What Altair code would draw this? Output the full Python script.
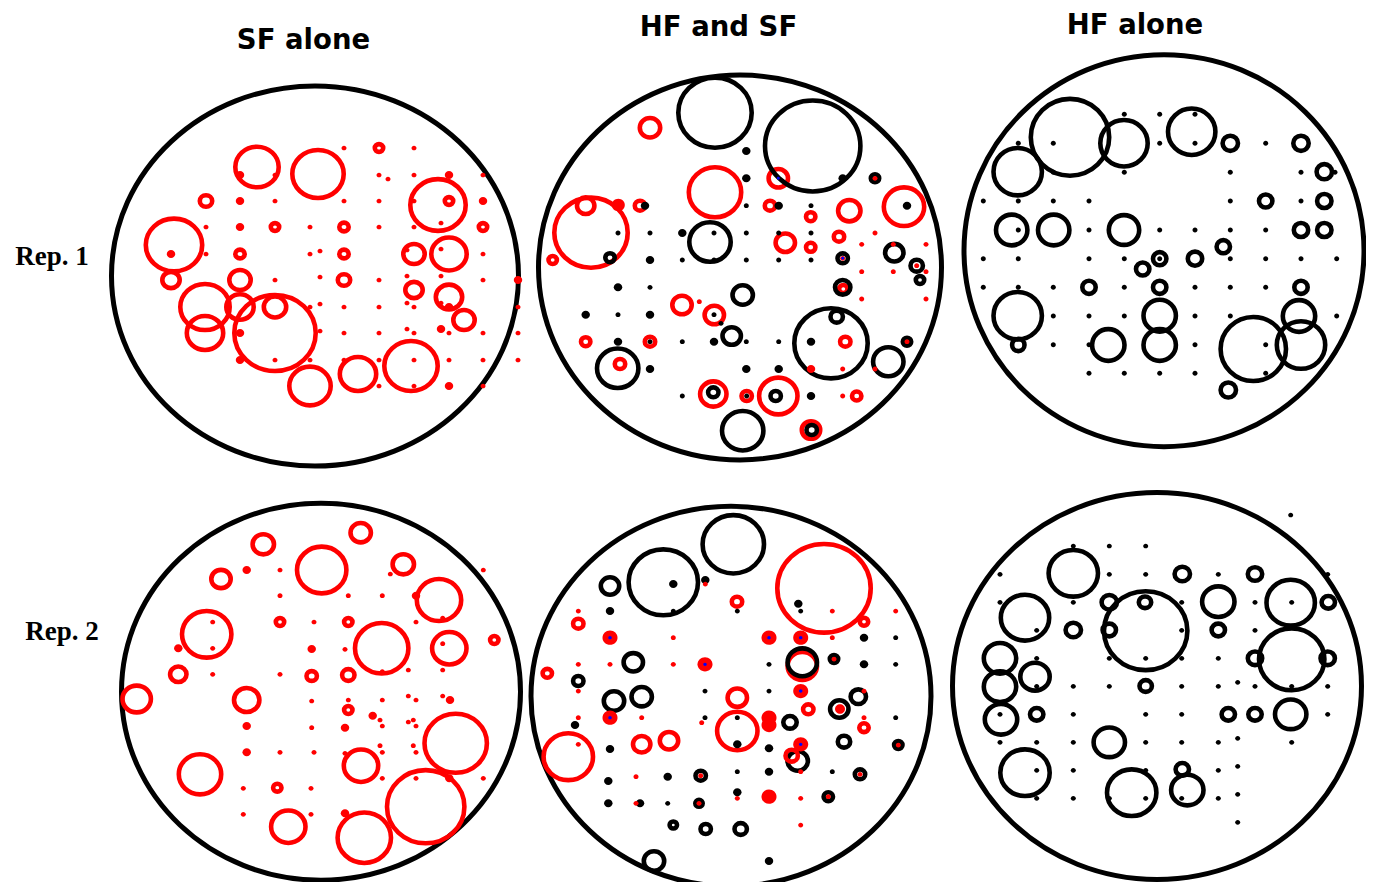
import altair as alt
import pandas as pd

# ---------------- panel frames ----------------
PANEL_IDS = ["p1", "p2", "p3", "p4", "p5", "p6"]
PANEL_ASPECT = [0.934, 0.955, 0.98, 0.945, 0.95, 0.946]
FRAME_X = [315, 740, 1164, 321, 731, 1157]
FRAME_Y = [276, 267.5, 250.7, 691.7, 696.3, 686]
FRAME_W = [407, 403, 400, 399, 400, 409]

TITLES = ["SF alone", "HF and SF", "HF alone"]
TITLE_X = [303.5, 718.5, 1135]
TITLE_Y = [48.5, 36, 34]
ROW_LABELS = ["Rep. 1", "Rep. 2"]
ROW_X = [52, 62]
ROW_Y = [265, 640]

S, B = 5.0, 8.5  # small / big dot diameters

# ---------------- panel 1 : SF alone, Rep 1 ----------------
P1_RINGS = [(379,148,13,"r"),(257,167,48,"r"),(318,174,56,"r"),(206,201,17,"r"),(438,205,60,"r"),
            (449,201,13,"r"),(174,245,61,"r"),(275,227,13,"r"),(344,227,14,"r"),(483,227,13,"r"),
            (240,254,14,"r"),(344,254,14,"r"),(414,254,26,"r"),(449,254,40,"r"),(171,280,22,"r"),
            (240,280,26,"r"),(344,280,17,"r"),(414,290,22,"r"),(205,307,54,"r"),(240,307,32,"r"),
            (275,333,86,"r"),(275,307,27,"r"),(449,297,31,"r"),(464,320,26,"r"),(205,333,41,"r"),
            (411,366,58,"r"),(358,374,41,"r"),(310,386,46,"r")]
P1_DOTS = [(344,148,S,"r"),(414,148,S,"r"),
           (240,175,B,"r"),(275,175,S,"r"),(379,175,S,"r"),(388,179,S,"r"),(414,175,S,"r"),(449,175,B,"r"),(483,175,S,"r"),
           (240,201,B,"r"),(275,201,S,"r"),(344,201,S,"r"),(379,201,S,"r"),(414,201,S,"r"),(483,201,B,"r"),
           (206,227,S,"r"),(240,227,B,"r"),(310,227,S,"r"),(379,227,S,"r"),(414,227,S,"r"),(441,223,S,"r"),
           (171,254,B,"r"),(206,254,S,"r"),(310,254,S,"r"),(320,251,S,"r"),(483,254,S,"r"),(407,250,S,"r"),(441,249,S,"r"),
           (275,280,S,"r"),(320,277,S,"r"),(379,280,S,"r"),(407,276,S,"r"),(441,276,S,"r"),(483,280,S,"r"),(518,280,B,"r"),
           (310,307,S,"r"),(320,304,S,"r"),(344,307,S,"r"),(379,307,S,"r"),(407,303,S,"r"),(414,307,S,"r"),(441,303,S,"r"),
           (449,307,B,"r"),(518,307,S,"r"),
           (240,333,B,"r"),(320,331,S,"r"),(344,333,S,"r"),(379,333,S,"r"),(407,329,S,"r"),(414,333,S,"r"),(441,329,B,"r"),
           (449,333,S,"r"),(483,333,S,"r"),(518,333,S,"r"),
           (240,360,B,"r"),(275,360,S,"r"),(310,360,S,"r"),(344,360,S,"r"),(379,360,S,"r"),(414,360,S,"r"),(449,360,S,"r"),
           (483,360,S,"r"),(518,360,S,"r"),
           (379,386,S,"r"),(414,386,S,"r"),(449,386,B,"r"),(483,386,S,"r")]

# ---------------- panel 2 : HF and SF, Rep 1 ----------------
P2_RINGS = [(650,127.7,25,"r"),(778.3,178.3,24,"r"),(591,232.7,78,"r"),(585.7,205.7,22,"r"),(640,205.7,15,"r"),
            (715,192.3,57,"r"),(770,205.7,15,"r"),(810.7,216.7,14,"r"),(849.3,210.7,27,"r"),(904,206.7,45,"r"),
            (785.3,242.7,24,"r"),(839,236.7,15,"r"),(810.7,247.3,14,"r"),(552.7,260,13,"r"),(843.3,289,13,"r"),
            (682,305,24,"r"),(714.3,315,24,"r"),(585.7,341.7,14,"r"),(650,341.7,15,"r"),(845.3,341.7,15,"r"),
            (620,364,15,"r"),(713.3,394,31,"r"),(746.7,396,15,"r"),(778.3,396,43,"r"),(856.7,396,14,"r"),
            (811,430,23,"r"),
            (715,112.7,78,"k"),(812.7,146,100,"k"),(710,242,46,"k"),(610,257.7,14,"k"),(842.7,258.3,15,"k"),
            (894.3,252.7,23,"k"),(916.7,265.7,17,"k"),(920,280,13,"k"),(742.7,295,25,"k"),(842.7,287.3,20,"k"),
            (831,343.3,78,"k"),(836.7,316.7,17,"k"),(731.7,336,23,"k"),(907,341.7,13,"k"),(888.3,361.7,35,"k"),
            (617.7,368.3,46,"k"),(713.3,392.3,15,"k"),(775.7,396,15,"k"),(742.7,430.7,46,"k"),(811.7,430,15,"k"),
            (875,178.3,13,"k")]
P2_DOTS = [(746.3,151,B,"k"),(746.3,178.3,B,"k"),(842.7,178.3,B,"k"),(645,205.7,B,"k"),(778.7,205.7,B,"k"),
           (907,205.7,B,"k"),(682.3,233,B,"k"),(650,260,B,"k"),(618,287.3,B,"k"),(585.7,314.7,B,"k"),
           (650,314.7,B,"k"),(618,341.7,B,"k"),(714,341.7,B,"k"),(811,341.7,B,"k"),(650,369,B,"k"),
           (746.3,369,B,"k"),(778.7,369,B,"k"),(811,396,B,"k"),
           (746.3,205.7,S,"k"),(811,205.7,S,"k"),(618,233,S,"k"),(650,233,S,"k"),(714,233,S,"k"),(746.3,233,S,"k"),
           (778.7,233,S,"k"),(811,233,S,"k"),(682.3,260,S,"k"),(714,260,S,"k"),(746.3,260,S,"k"),(778.7,260,S,"k"),
           (811,260,S,"k"),(650,287.3,S,"k"),(618,314.7,S,"k"),(714,314.7,S,"k"),(721,323.3,S,"k"),(650,341.7,S,"k"),
           (682.3,341.7,S,"k"),(746.3,341.7,S,"k"),(778.7,341.7,S,"k"),(682.3,396,S,"k"),(746.7,396,S,"k"),
           (618.3,205,13,"r"),(811,369,B,"r"),
           (875,178.3,S,"r"),(875,233,S,"r"),(861.7,244.3,S,"r"),(893.3,244.3,S,"r"),(926,244.3,S,"r"),
           (842.7,258.3,S,"r"),(916.7,265.7,S,"r"),(926,271.7,S,"r"),(861.7,271.7,S,"r"),(893.3,271.7,S,"r"),
           (861.7,299,S,"r"),(926,299,S,"r"),(699.3,301.7,S,"r"),(907,341.7,S,"r"),(842.7,369,S,"r"),
           (875,369,S,"r"),(842.7,396,S,"r"),
           (778.3,178.3,3,"b"),(842.7,258.3,3,"b")]

# ---------------- panel 3 : HF alone, Rep 1 ----------------
P3_RINGS = [(1070,137.3,83,"k"),(1017.7,171.7,53,"k"),(1124,143.3,52,"k"),(1191.7,131.7,52,"k"),(1230.3,143.3,20,"k"),
            (1301,143.3,20,"k"),(1324.3,171.7,20,"k"),(1265.7,201,18,"k"),(1324.3,201,19,"k"),(1011.7,230,36,"k"),
            (1053.7,230,36,"k"),(1124,230,35,"k"),(1301,230,19,"k"),(1324.3,230,19,"k"),(1159.7,258.7,18,"k"),
            (1142.7,269,18,"k"),(1195,258.7,19,"k"),(1223.3,246.7,18,"k"),(1089,287.3,18,"k"),(1159.7,287.3,18,"k"),
            (1301,287.3,18,"k"),(1017.7,315.7,53,"k"),(1018.3,345,17,"k"),(1159.7,315.7,37,"k"),(1159.7,345,37,"k"),
            (1108.3,345,37,"k"),(1299,316,37,"k"),(1301,345,53,"k"),(1253.3,349,70,"k"),(1228.3,390,20,"k")]
P3_DOTS = [(1124.3,114.3,S,"k"),(1159.7,114.3,S,"k"),(1195,114.3,S,"k"),
           (1018.3,143.3,S,"k"),(1053.3,143.3,S,"k"),(1159.7,143.3,S,"k"),(1195,143.3,S,"k"),(1265.7,143.3,S,"k"),
           (1053.3,172.3,S,"k"),(1124.3,172.3,S,"k"),(1230.3,172.3,S,"k"),(1301,172.3,S,"k"),(1335,172.3,S,"k"),
           (983.3,201,S,"k"),(1018.3,201,S,"k"),(1053.3,201,S,"k"),(1089,201,S,"k"),(1230.3,201,S,"k"),(1301,201,S,"k"),
           (1018.3,230,S,"k"),(1089,230,S,"k"),(1159.7,230,S,"k"),(1195,230,S,"k"),(1230.3,230,S,"k"),(1265.7,230,S,"k"),
           (983.3,258.7,S,"k"),(1018.3,258.7,S,"k"),(1089,258.7,S,"k"),(1124.3,258.7,S,"k"),(1159.7,258.7,S,"k"),
           (1230.3,258.7,S,"k"),(1265.7,258.7,S,"k"),(1301,258.7,S,"k"),(1336.7,258.7,S,"k"),
           (983.3,287.3,S,"k"),(1018.3,287.3,S,"k"),(1053.3,287.3,S,"k"),(1124.3,287.3,S,"k"),(1195,287.3,S,"k"),
           (1230.3,287.3,S,"k"),(1265.7,287.3,S,"k"),
           (1053.3,316,S,"k"),(1089,316,S,"k"),(1124.3,316,S,"k"),(1195,316,S,"k"),(1230.3,316,S,"k"),(1336.7,316,S,"k"),
           (1053.3,344.7,S,"k"),(1089,344.7,S,"k"),(1195,344.7,S,"k"),(1265.7,344.7,S,"k"),
           (1089,373.3,S,"k"),(1124.3,373.3,S,"k"),(1159.7,373.3,S,"k"),(1195,373.3,S,"k"),(1265.7,373.3,S,"k")]

# ---------------- panel 4 : SF alone, Rep 2 ----------------
P4_RINGS = [(263.3,544.3,26,"r"),(360.7,532.7,25,"r"),(321.7,570,54,"r"),(403.3,564.3,26,"r"),(221,579,24,"r"),
            (439,600,49,"r"),(206.7,634.3,54,"r"),(280,622,13,"r"),(348.3,622,13,"r"),(381.7,648.3,58,"r"),
            (449.3,648.3,39,"r"),(494.3,640,13,"r"),(178.3,674.3,21,"r"),(311.7,676,15,"r"),(348.3,675,17,"r"),
            (136.7,699,33,"r"),(246.7,700,30,"r"),(348.3,710,13,"r"),(455.7,743.3,67,"r"),(200,774.3,47,"r"),
            (361,765.7,39,"r"),(277.3,787.7,13,"r"),(425.7,806.7,82,"r"),(288.3,826.7,39,"r"),(364.3,837.7,58,"r")]
P4_DOTS = [(246.7,570,B,"r"),(416,595.7,B,"r"),(178.3,648.3,B,"r"),(311.7,649,B,"r"),(450,700,B,"r"),
           (372.7,715.7,B,"r"),(246.7,726,B,"r"),(345,727.7,B,"r"),(246.7,752.3,B,"r"),(449.3,778.3,B,"r"),
           (345,813.3,B,"r"),
           (280,570,S,"r"),(390.3,574,S,"r"),(483.3,570,S,"r"),(280,595.7,S,"r"),(348.3,595.7,S,"r"),(382.3,595.7,S,"r"),
           (212.7,622,S,"r"),(212.7,648.3,S,"r"),(314,622,S,"r"),(416,622,S,"r"),(442.7,618,S,"r"),(442.7,643.7,S,"r"),
           (345,649.3,S,"r"),(212.7,674.3,S,"r"),(280,674.3,S,"r"),(408.3,670,S,"r"),(442.7,670,S,"r"),(382.3,671.7,S,"r"),
           (311.7,701,S,"r"),(348.3,700,S,"r"),(382.3,700,S,"r"),(408.3,696,S,"r"),(416,700,S,"r"),(442.7,696,S,"r"),
           (380,720,S,"r"),(311.7,727.7,S,"r"),(382.3,726,S,"r"),(408.3,722,S,"r"),(413.3,720,S,"r"),(416,726,S,"r"),
           (280,752.3,S,"r"),(314,752.3,S,"r"),(345,753.3,S,"r"),(380,745.7,S,"r"),(382.3,752.3,S,"r"),(413.3,745.7,S,"r"),
           (416,752.3,S,"r"),(382.3,778.3,S,"r"),(416,778.3,S,"r"),(483.3,778.3,S,"r"),(243.3,788.3,S,"r"),(311,788.3,S,"r"),
           (243.3,814.3,S,"r"),(311,814.3,S,"r")]

# ---------------- panel 5 : HF and SF, Rep 2 ----------------
P5_RINGS = [(733.3,544.3,66,"k"),(663.3,582.3,74,"k"),(610,586,23,"k"),(633.3,662.3,24,"k"),
            (834,659,13,"k"),(578.3,681,15,"k"),(614,701,25,"k"),(641.7,696.7,25,"k"),(858.3,696.7,20,"k"),
            (790,722.3,18,"k"),(839.3,709,23,"k"),(844,741.7,17,"k"),(898.3,745,13,"k"),(797.7,761,25,"k"),
            (700.7,775.7,15,"k"),(860,774.3,15,"k"),(699,803.3,12,"k"),(828.3,796.7,14,"k"),(673.3,825,12,"k"),
            (705.7,829,15,"k"),(740.7,829,17,"k"),(654,861,25,"k"),
            (824,588.3,98,"r"),(737,601.7,15,"r"),(578.3,623.7,15,"r"),(864,621.7,13,"r"),(547.3,673.3,14,"r"),
            (802.3,666,34,"r"),(737.3,697.7,24,"r"),(737.3,731,45,"r"),(808.3,709.3,15,"r"),(864,727.7,14,"r"),
            (568.3,756.7,54,"r"),(641.7,744.3,22,"r"),(669,740.7,23,"r"),(791.7,755.7,17,"r"),
            (802.3,662.3,34,"k")]
P5_DOTS = [(673.3,584,B,"k"),(705.3,580,B,"k"),(798.3,603.7,B,"k"),(610,611,B,"k"),(864,637.7,B,"k"),
           (864,664.3,B,"k"),(575,725,B,"k"),(610,749,B,"k"),(737.3,744.3,B,"k"),(769,748.3,B,"k"),
           (608.3,781,B,"k"),(667.7,776.7,B,"k"),(769,771.7,B,"k"),(608.3,803.3,B,"k"),(640,803.3,B,"k"),
           (737.3,792.3,B,"k"),(769,861,B,"k"),
           (800.7,611,S,"k"),(673.3,611,S,"k"),(737.3,611,S,"k"),(895.7,637.7,S,"k"),(769,664.3,S,"k"),
           (895.7,664.3,S,"k"),(705,691,S,"k"),(769,691,S,"k"),(705,717.7,S,"k"),(737.3,717.7,S,"k"),
           (895.7,717.7,S,"k"),(737.3,771.7,S,"k"),(832.3,771.7,S,"k"),(667.7,803.3,S,"k"),
           (610,637.7,15,"r"),(769,637.7,15,"r"),(800.7,637.7,15,"r"),(705,664.3,15,"r"),(800.7,691,15,"r"),
           (610,717.7,15,"r"),(800.7,744.3,15,"r"),(769,717.7,15,"r"),(769,725,15,"r"),(769,796.7,15,"r"),
           (840,709,10,"r"),
           (705.3,584,S,"r"),(578.3,611,S,"r"),(832.3,611,S,"r"),(895.7,611,S,"r"),(673.3,637.7,S,"r"),
           (832.3,637.7,S,"r"),(578.3,664.3,S,"r"),(610,664.3,S,"r"),(673.3,664.3,S,"r"),(834,659,S,"r"),
           (578.3,691,S,"r"),(864,691,S,"r"),(578.3,717.7,S,"r"),(641.7,717.7,S,"r"),(701.7,722.7,S,"r"),
           (864,717.7,S,"r"),(578.3,744.3,S,"r"),(898.3,745,S,"r"),(636,776.7,S,"r"),(700.7,775.7,S,"r"),
           (800.7,771.7,S,"r"),(860,774.3,S,"r"),(636,803.3,S,"r"),(699,803.3,S,"r"),(737.3,798.3,S,"r"),
           (800.7,798.3,S,"r"),(828.3,796.7,S,"r"),(800.7,825,S,"r"),
           (610,637.7,3.5,"b"),(769,637.7,3.5,"b"),(800.7,637.7,3.5,"b"),(705,664.3,3.5,"b"),(800.7,691,3.5,"b"),
           (610,717.7,3.5,"b"),(800.7,744.3,3.5,"b")]

# ---------------- panel 6 : HF alone, Rep 2 ----------------
P6_RINGS = [(1073.3,573.3,54,"k"),(1182.3,574,20,"k"),(1255,574,19,"k"),(1025,617.7,53,"k"),(1109.3,602.3,20,"k"),
            (1145.7,630.7,88,"k"),(1145,602.3,17,"k"),(1218.3,601.7,37,"k"),(1290.7,602.7,53,"k"),(1328.3,602.3,18,"k"),
            (1073.3,630,20,"k"),(1109.3,630,18,"k"),(1218.3,630,18,"k"),(1291.7,659.3,70,"k"),(1255,658.3,19,"k"),
            (1327.7,658.3,19,"k"),(1000,658.3,37,"k"),(1000,686.7,37,"k"),(1035,676.7,34,"k"),(1145.7,686,17,"k"),
            (1001,719.3,37,"k"),(1036.7,714.3,18,"k"),(1228.3,714.3,18,"k"),(1255,714.3,18,"k"),(1290.7,714.3,36,"k"),
            (1109.3,742.3,36,"k"),(1025,772.7,54,"k"),(1131.7,792.7,54,"k"),(1182.3,769.3,18,"k"),(1187.3,790,37,"k")]
P6_DOTS = [(1290.7,515,S,"k"),
           (1073.3,546,S,"k"),(1109.3,546,S,"k"),(1145.7,546,S,"k"),
           (1000,574.3,S,"k"),(1109.3,574.3,S,"k"),(1145.7,574.3,S,"k"),(1218.3,574.3,S,"k"),(1327.7,574.3,S,"k"),
           (1000,602.3,S,"k"),(1073.3,602.3,S,"k"),(1181.7,602.3,S,"k"),(1255,602.3,S,"k"),(1291.7,602.3,S,"k"),
           (1036.7,630.3,S,"k"),(1181.7,630.3,S,"k"),(1255,630.3,S,"k"),
           (1036.7,658.3,S,"k"),(1109.3,658.3,S,"k"),(1145.7,658.3,S,"k"),(1181.7,658.3,S,"k"),(1218.3,658.3,S,"k"),
           (1036.7,686.3,S,"k"),(1073.3,686.3,S,"k"),(1109.3,686.3,S,"k"),(1181.7,686.3,S,"k"),(1218.3,686.3,S,"k"),
           (1255,686.3,S,"k"),(1291.7,686.3,S,"k"),(1327.7,686.3,S,"k"),(1237.7,682.3,S,"k"),
           (1000,714.3,S,"k"),(1073.3,714.3,S,"k"),(1145.7,714.3,S,"k"),(1181.7,714.3,S,"k"),(1327.7,714.3,S,"k"),
           (1000,742.3,S,"k"),(1036.7,742.3,S,"k"),(1073.3,742.3,S,"k"),(1145.7,742.3,S,"k"),(1181.7,742.3,S,"k"),
           (1218.3,742.3,S,"k"),(1291.7,742.3,S,"k"),(1237.7,738.3,S,"k"),
           (1036.7,770.3,S,"k"),(1073.3,770.3,S,"k"),(1145.7,770.3,S,"k"),(1218.3,770.3,S,"k"),(1237.7,766.3,S,"k"),
           (1036.7,798.3,S,"k"),(1073.3,798.3,S,"k"),(1109.3,798.3,S,"k"),(1145.7,798.3,S,"k"),(1181.7,798.3,S,"k"),
           (1218.3,798.3,S,"k"),(1237.7,794.3,S,"k"),(1237.7,822.3,S,"k")]

COLOR_CODES = {"r": "#ff0000", "k": "#000000", "b": "#0000ff"}
RING_STROKE = 4.6
FRAME_STROKE = 5.0


def ellipse_path(r):
    k = 0.5523
    a, b = k * r, r
    return (f"M1,0C1,{a:.4f},{k},{b:.4f},0,{b:.4f}"
            f"C{-k},{b:.4f},-1,{a:.4f},-1,0"
            f"C-1,{-a:.4f},{-k},{-b:.4f},0,{-b:.4f}"
            f"C{k},{-b:.4f},1,{-a:.4f},1,0Z")


SHAPES = [ellipse_path(r) for r in PANEL_ASPECT]

rings_all = [P1_RINGS, P2_RINGS, P3_RINGS, P4_RINGS, P5_RINGS, P6_RINGS]
dots_all = [P1_DOTS, P2_DOTS, P3_DOTS, P4_DOTS, P5_DOTS, P6_DOTS]

frame_rows = [dict(x=FRAME_X[i], y=FRAME_Y[i], size=FRAME_W[i] ** 2, color="#000000",
                   panel=PANEL_IDS[i]) for i in range(6)]
ring_rows, dot_rows = [], []
for i, pid in enumerate(PANEL_IDS):
    for (x, y, w, c) in rings_all[i]:
        ring_rows.append(dict(x=x, y=y, size=max(w - RING_STROKE, 2) ** 2,
                              color=COLOR_CODES[c], panel=pid))
    for (x, y, d, c) in dots_all[i]:
        dot_rows.append(dict(x=x, y=y, size=d ** 2, color=COLOR_CODES[c], panel=pid))

frames_df = pd.DataFrame(frame_rows)
rings_df = pd.DataFrame(ring_rows)
dots_df = pd.DataFrame(dot_rows)
titles_df = pd.DataFrame(dict(x=TITLE_X, y=TITLE_Y, text=TITLES))
rows_df = pd.DataFrame(dict(x=ROW_X, y=ROW_Y, text=ROW_LABELS))

xs = alt.Scale(domain=[8, 1366], nice=False, zero=False)
ys = alt.Scale(domain=[8, 882], nice=False, zero=False, reverse=True)
shape_scale = alt.Scale(domain=PANEL_IDS, range=SHAPES)


def enc():
    return dict(
        x=alt.X("x:Q", scale=xs, axis=None),
        y=alt.Y("y:Q", scale=ys, axis=None),
        size=alt.Size("size:Q", scale=None),
        color=alt.Color("color:N", scale=None),
        shape=alt.Shape("panel:N", scale=shape_scale, legend=None),
    )


frames = alt.Chart(frames_df).mark_point(filled=False, opacity=1, strokeWidth=FRAME_STROKE).encode(**enc())
rings = alt.Chart(rings_df).mark_point(filled=False, opacity=1, strokeWidth=RING_STROKE).encode(**enc())
dots = alt.Chart(dots_df).mark_point(filled=True, opacity=1, strokeWidth=0).encode(**enc())

titles = alt.Chart(titles_df).mark_text(
    font="DejaVu Sans", fontSize=27.5, fontWeight="bold", align="center",
    baseline="alphabetic", color="#000000"
).encode(x=alt.X("x:Q", scale=xs, axis=None), y=alt.Y("y:Q", scale=ys, axis=None), text="text:N")

row_labels = alt.Chart(rows_df).mark_text(
    font="Liberation Serif", fontSize=27, fontWeight="bold", align="center",
    baseline="alphabetic", color="#000000"
).encode(x=alt.X("x:Q", scale=xs, axis=None), y=alt.Y("y:Q", scale=ys, axis=None), text="text:N")

chart = alt.layer(frames, rings, dots, titles, row_labels).properties(
    width=1358, height=874, padding=0, autosize="none"
).configure_view(stroke=None)

chart.save("out.html", embed_options={"renderer": "svg", "actions": False})
